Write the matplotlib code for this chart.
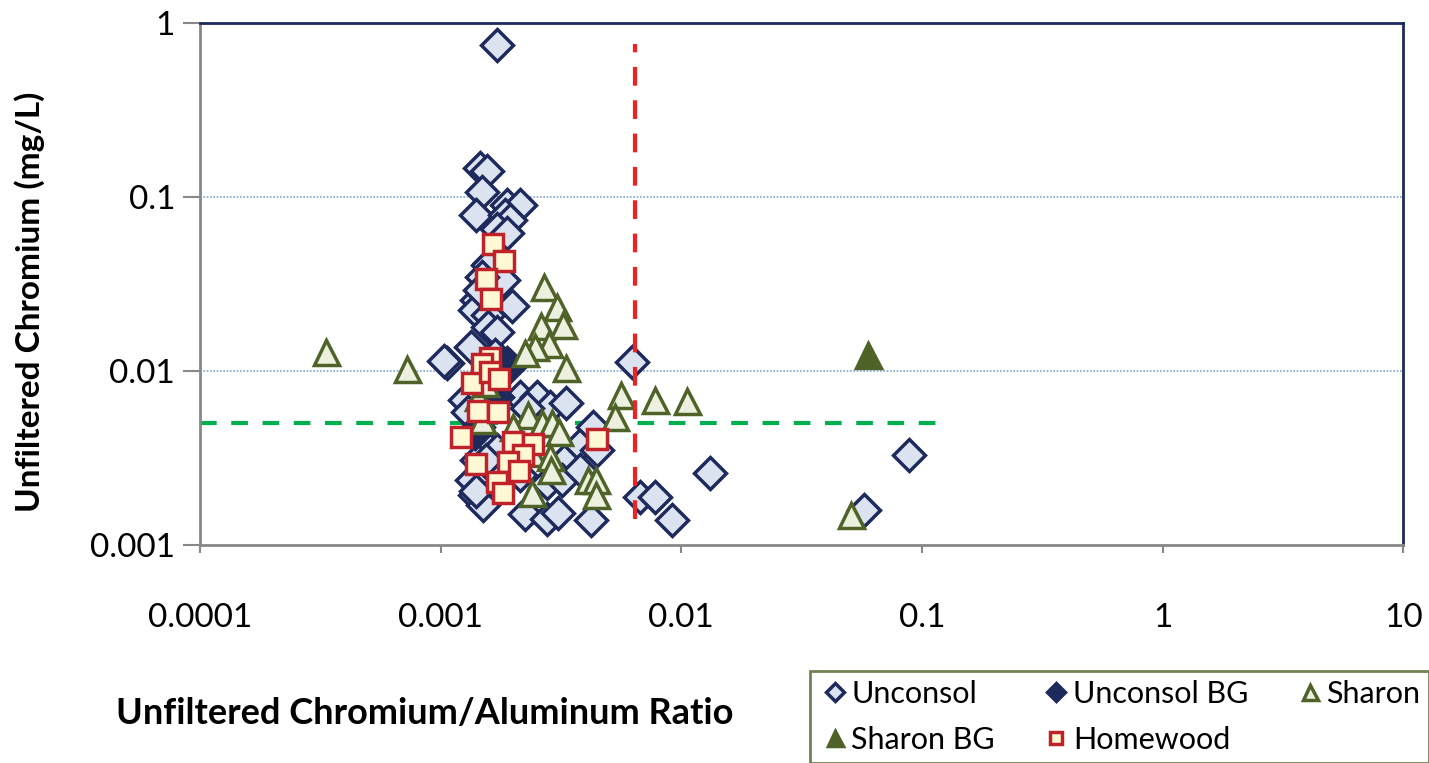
import numpy as np
import matplotlib
matplotlib.use('Agg')
import matplotlib.pyplot as plt
from matplotlib.ticker import FixedLocator, NullLocator

plt.rcParams.update({'font.family': ['Lato', 'DejaVu Sans'], 'font.size': 24})

# data (Cr/Al ratio, Cr mg/L)
unconsol_x = [1.71e-3, 1.45e-3, 1.56e-3, 1.49e-3, 1.40e-3, 1.89e-3, 2.14e-3, 1.85e-3, 1.94e-3, 1.71e-3,
              1.89e-3, 1.60e-3, 1.57e-3, 1.82e-3, 1.49e-3, 1.98e-3, 1.42e-3, 1.39e-3, 1.57e-3, 1.57e-3,
              1.71e-3, 1.34e-3, 1.06e-3, 1.03e-3, 1.89e-3, 6.25e-3, 1.26e-3, 1.30e-3, 2.14e-3, 2.52e-3,
              2.85e-3, 3.32e-3, 2.29e-3, 1.43e-3, 1.71e-3, 1.42e-3, 1.54e-3, 3.35e-3, 3.80e-3, 4.30e-3,
              4.47e-3, 1.35e-3, 1.39e-3, 1.50e-3, 2.77e-3, 3.20e-3, 3.80e-3, 2.24e-3, 2.77e-3, 3.08e-3,
              4.22e-3, 6.75e-3, 7.78e-3, 9.16e-3, 1.32e-2, 8.85e-2, 5.75e-2, 2.14e-3, 1.40e-3, 1.45e-3,
              1.68e-3]
unconsol_y = [0.748, 0.147, 0.141, 0.107, 0.0788, 0.090, 0.090, 0.0788, 0.0738, 0.0655,
              0.0621, 0.0418, 0.0407, 0.0333, 0.0347, 0.0236, 0.0256, 0.0224, 0.0210, 0.0179,
              0.0168, 0.0137, 0.0111, 0.0114, 0.0111, 0.0113, 0.00681, 0.00581, 0.00709, 0.00709,
              0.00621, 0.00655, 0.00613, 0.00412, 0.00352, 0.00308, 0.00308, 0.00316, 0.00376, 0.00477,
              0.00352, 0.00237, 0.00194, 0.00170, 0.00227, 0.00237, 0.00270, 0.00151, 0.00141, 0.00153,
              0.00139, 0.00189, 0.00189, 0.00139, 0.00259, 0.00329, 0.00159, 0.00252, 0.00205, 0.0292,
              0.0124]

unconsol_bg_x = [1.82e-3, 1.94e-3, 1.71e-3, 1.43e-3, 1.39e-3, 1.46e-3]
unconsol_bg_y = [0.0111, 0.0106, 0.00709, 0.00477, 0.00440, 0.00887]

sharon_x = [3.34e-4, 7.24e-4, 2.69e-3, 3.05e-3, 2.61e-3, 3.23e-3, 2.82e-3, 2.47e-3, 2.24e-3, 3.32e-3,
            5.62e-3, 5.31e-3, 7.78e-3, 1.06e-2, 5.08e-2, 2.31e-3, 2.00e-3, 2.64e-3, 2.90e-3, 3.11e-3,
            2.40e-3, 2.85e-3, 2.88e-3, 4.10e-3, 4.43e-3, 4.43e-3, 2.40e-3, 1.49e-3, 1.43e-3, 1.53e-3]
sharon_y = [0.0129, 0.0103, 0.0304, 0.0233, 0.0181, 0.0184, 0.0143, 0.0137, 0.0127, 0.0104,
            0.00728, 0.00544, 0.00681, 0.00673, 0.00149, 0.00558, 0.00477, 0.00503, 0.00503, 0.00446,
            0.00338, 0.00321, 0.00270, 0.00237, 0.00237, 0.00194, 0.00199, 0.00523, 0.00709, 0.00853]

sharon_bg_x = [5.97e-2]
sharon_bg_y = [0.0124]

homewood_x = [1.65e-3, 1.84e-3, 1.54e-3, 1.62e-3, 1.60e-3, 1.49e-3, 1.35e-3, 1.60e-3, 1.75e-3, 1.43e-3,
              1.73e-3, 1.21e-3, 2.00e-3, 2.42e-3, 2.20e-3, 1.40e-3, 1.91e-3, 2.12e-3, 1.71e-3, 1.82e-3,
              4.47e-3]
homewood_y = [0.0537, 0.0429, 0.0338, 0.0259, 0.0119, 0.0110, 0.00853, 0.00987, 0.0090, 0.00589,
              0.00581, 0.00418, 0.00391, 0.00380, 0.00329, 0.00292, 0.00300, 0.00266, 0.00230, 0.00199,
              0.00405]

ratio_cut = 0.0064          # red vertical line
ratio_cut_y = [0.0014, 0.76]
cr_limit = 0.005            # green horizontal line
cr_limit_x = [1e-4, 0.115]

NAVY = '#1f2a5c'
OLIVE = '#4f6228'

fig = plt.figure(figsize=(14.29, 7.63), dpi=100)
ax = fig.add_axes([0.140, 0.286, 0.842, 0.684])

h1, = ax.plot(unconsol_x, unconsol_y, 'D', ms=16, mfc='#dce3f0', mec=NAVY, mew=2.5, ls='none', label='Unconsol', zorder=3)
h2, = ax.plot(unconsol_bg_x, unconsol_bg_y, 'D', ms=16, mfc=NAVY, mec=NAVY, mew=2.5, ls='none', label='Unconsol BG', zorder=3)
h3, = ax.plot(sharon_x, sharon_y, '^', ms=18, mfc='#ebf1de', mec=OLIVE, mew=2.5, ls='none', label='Sharon', zorder=3)
h4, = ax.plot(sharon_bg_x, sharon_bg_y, '^', ms=18, mfc=OLIVE, mec=OLIVE, mew=2.5, ls='none', label='Sharon BG', zorder=3)
h5, = ax.plot(homewood_x, homewood_y, 's', ms=14, mfc='#fef9d4', mec='#c0222a', mew=2.5, ls='none', label='Homewood', zorder=3)

ax.plot(cr_limit_x, [cr_limit, cr_limit], color='#00b050', lw=3, dashes=(4, 3.5), zorder=2)
ax.plot([ratio_cut, ratio_cut], ratio_cut_y, color='#ee2222', lw=3, dashes=(4.5, 3.5), zorder=4)

ax.set_xscale('log'); ax.set_yscale('log')
ax.set_xlim(1e-4, 10); ax.set_ylim(1e-3, 1)
ax.xaxis.set_major_locator(FixedLocator([1e-4, 1e-3, 1e-2, 1e-1, 1, 10]))
ax.yaxis.set_major_locator(FixedLocator([1e-3, 1e-2, 1e-1, 1]))
ax.xaxis.set_minor_locator(NullLocator()); ax.yaxis.set_minor_locator(NullLocator())
ax.set_xticklabels(['0.0001', '0.001', '0.01', '0.1', '1', '10'])
ax.set_yticklabels(['0.001', '0.01', '0.1', '1'])
ax.tick_params(axis='x', length=6, width=1.5, color='#888888', pad=36, labelsize=24)
ax.tick_params(axis='y', length=12, width=1.5, color='#888888', pad=6, labelsize=24)

for yv in [0.01, 0.1]:
    ax.axhline(yv, color='#7fa6d8', lw=1.2, ls=(0, (1, 1)), zorder=1)

ax.spines['left'].set_color('#888888'); ax.spines['bottom'].set_color('#888888')
ax.spines['left'].set_linewidth(2); ax.spines['bottom'].set_linewidth(2)
ax.spines['top'].set_color(NAVY); ax.spines['right'].set_color(NAVY)
ax.spines['top'].set_linewidth(2); ax.spines['right'].set_linewidth(2)

ax.set_ylabel('Unfiltered Chromium (mg/L)', fontsize=24, fontweight='bold')
ax.yaxis.set_label_coords(-0.129, 0.466)
fig.text(0.297, 0.065, 'Unfiltered Chromium/Aluminum Ratio', fontsize=26, fontweight='bold', ha='center', va='center')

# legend is filled column by column, so order the handles to read row by row
leg = fig.legend([h1, h4, h2, h5, h3], ['Unconsol', 'Sharon BG', 'Unconsol BG', 'Homewood', 'Sharon'],
                 loc='upper left', bbox_to_anchor=(0.567, 0.121), borderaxespad=0, ncol=3, fontsize=22,
                 frameon=True, fancybox=False, borderpad=0.3, handletextpad=0.05, columnspacing=1.5,
                 labelspacing=0.6, handlelength=1.0, markerscale=0.6)
leg.get_frame().set_edgecolor(OLIVE); leg.get_frame().set_linewidth(2)

plt.savefig('out.png', dpi=100)
plt.close()
